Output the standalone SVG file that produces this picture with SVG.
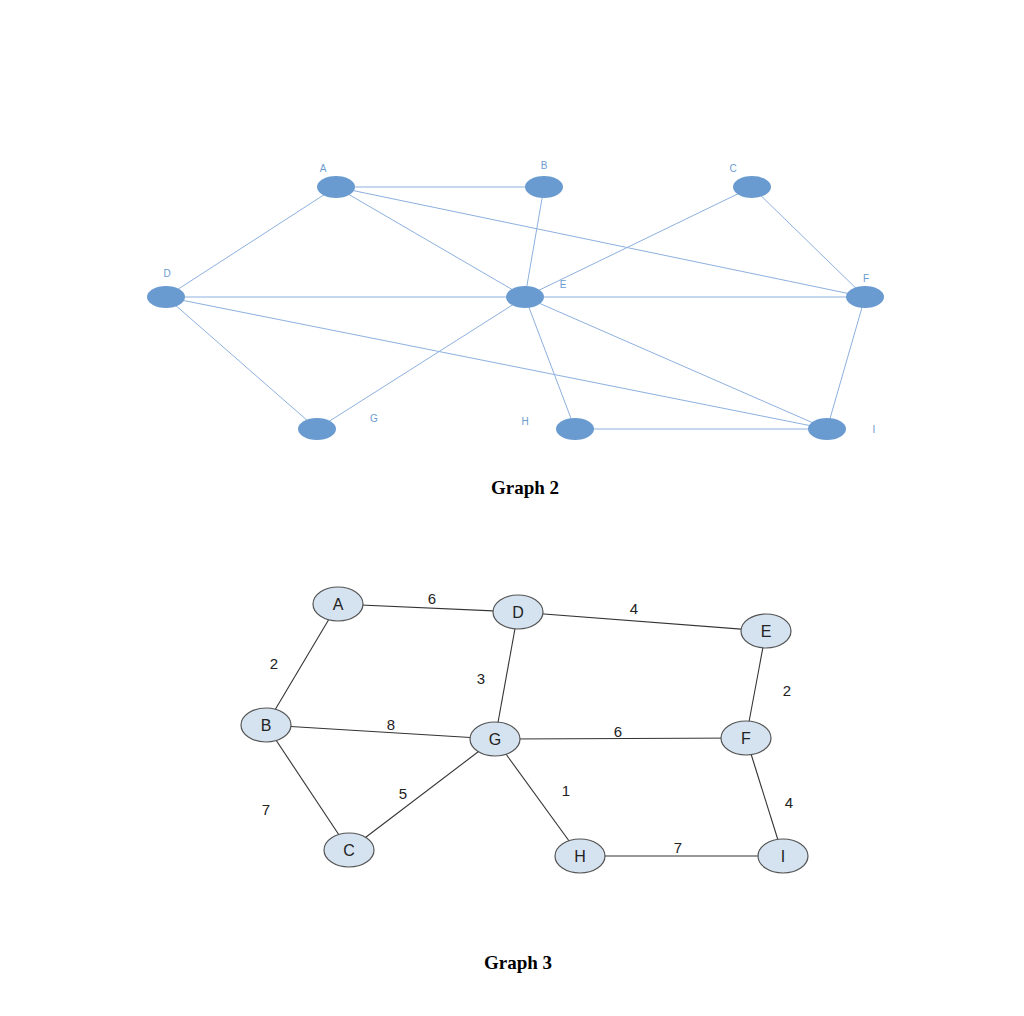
<svg xmlns="http://www.w3.org/2000/svg" width="1024" height="1016" viewBox="0 0 1024 1016">
<style>
.e2{stroke:#8db0de;stroke-width:1;fill:none}
.n2{fill:#6a9bd0}
.l2{font-family:"Liberation Sans",Arial,sans-serif;font-size:10px;fill:#6a9bd0;text-anchor:middle}
.e3{stroke:#333;stroke-width:1.1;fill:none}
.n3{fill:#d5e3f1;stroke:#555;stroke-width:1.2}
.t3{font-family:"Liberation Sans",Arial,sans-serif;font-size:16px;fill:#222;text-anchor:middle}
.w3{font-family:"Liberation Sans",Arial,sans-serif;font-size:15px;fill:#222;text-anchor:middle}
.cap{font-family:"Liberation Serif","Times New Roman",serif;font-size:19px;font-weight:bold;fill:#000;text-anchor:middle}
</style>
<rect width="1024" height="1016" fill="#fff"/>
<g id="graph2-edges">
<line class="e2" x1="336" y1="187" x2="544" y2="187"/>
<line class="e2" x1="336" y1="187" x2="525" y2="297"/>
<line class="e2" x1="336" y1="187" x2="865" y2="297"/>
<line class="e2" x1="336" y1="187" x2="166" y2="297"/>
<line class="e2" x1="544" y1="187" x2="525" y2="297"/>
<line class="e2" x1="752" y1="187" x2="525" y2="297"/>
<line class="e2" x1="752" y1="187" x2="865" y2="297"/>
<line class="e2" x1="166" y1="297" x2="525" y2="297"/>
<line class="e2" x1="166" y1="297" x2="827" y2="429"/>
<line class="e2" x1="166" y1="297" x2="317" y2="429"/>
<line class="e2" x1="525" y1="297" x2="865" y2="297"/>
<line class="e2" x1="525" y1="297" x2="317" y2="429"/>
<line class="e2" x1="525" y1="297" x2="575" y2="429"/>
<line class="e2" x1="525" y1="297" x2="827" y2="429"/>
<line class="e2" x1="865" y1="297" x2="827" y2="429"/>
<line class="e2" x1="575" y1="429" x2="827" y2="429"/>
</g>
<g id="g2-A"><ellipse class="n2" cx="336" cy="187" rx="19" ry="11"/><text class="l2" x="323" y="172">A</text></g>
<g id="g2-B"><ellipse class="n2" cx="544" cy="187" rx="19" ry="11"/><text class="l2" x="544" y="169">B</text></g>
<g id="g2-C"><ellipse class="n2" cx="752" cy="187" rx="19" ry="11"/><text class="l2" x="733" y="172">C</text></g>
<g id="g2-D"><ellipse class="n2" cx="166" cy="297" rx="19" ry="11"/><text class="l2" x="167" y="277">D</text></g>
<g id="g2-E"><ellipse class="n2" cx="525" cy="297" rx="19" ry="11"/><text class="l2" x="563" y="288">E</text></g>
<g id="g2-F"><ellipse class="n2" cx="865" cy="297" rx="19" ry="11"/><text class="l2" x="866" y="282">F</text></g>
<g id="g2-G"><ellipse class="n2" cx="317" cy="429" rx="19" ry="11"/><text class="l2" x="374" y="422">G</text></g>
<g id="g2-H"><ellipse class="n2" cx="575" cy="429" rx="19" ry="11"/><text class="l2" x="525" y="425">H</text></g>
<g id="g2-I"><ellipse class="n2" cx="827" cy="429" rx="19" ry="11"/><text class="l2" x="874" y="433">I</text></g>
<text class="cap" x="525" y="494">Graph 2</text>
<g id="graph3-edges">
<line class="e3" x1="338" y1="604" x2="518" y2="612"/>
<line class="e3" x1="518" y1="612" x2="766" y2="631"/>
<line class="e3" x1="338" y1="604" x2="266" y2="725"/>
<line class="e3" x1="518" y1="612" x2="495" y2="739"/>
<line class="e3" x1="766" y1="631" x2="746" y2="738"/>
<line class="e3" x1="266" y1="725" x2="495" y2="739"/>
<line class="e3" x1="495" y1="739" x2="746" y2="738"/>
<line class="e3" x1="266" y1="725" x2="349" y2="850"/>
<line class="e3" x1="495" y1="739" x2="349" y2="850"/>
<line class="e3" x1="495" y1="739" x2="580" y2="856"/>
<line class="e3" x1="746" y1="738" x2="783" y2="856"/>
<line class="e3" x1="580" y1="856" x2="783" y2="856"/>
</g>
<g id="weights">
<text class="w3" x="432" y="604">6</text>
<text class="w3" x="634" y="614">4</text>
<text class="w3" x="274" y="669">2</text>
<text class="w3" x="481" y="684">3</text>
<text class="w3" x="787" y="696">2</text>
<text class="w3" x="391" y="730">8</text>
<text class="w3" x="618" y="737">6</text>
<text class="w3" x="266" y="815">7</text>
<text class="w3" x="403" y="799">5</text>
<text class="w3" x="566" y="796">1</text>
<text class="w3" x="789" y="808">4</text>
<text class="w3" x="678" y="853">7</text>
</g>
<g id="g3-A"><ellipse class="n3" cx="338" cy="604" rx="25" ry="17"/><text class="t3" x="338" y="610">A</text></g>
<g id="g3-D"><ellipse class="n3" cx="518" cy="612" rx="25" ry="17"/><text class="t3" x="518" y="618">D</text></g>
<g id="g3-E"><ellipse class="n3" cx="766" cy="631" rx="25" ry="17"/><text class="t3" x="766" y="637">E</text></g>
<g id="g3-B"><ellipse class="n3" cx="266" cy="725" rx="25" ry="17"/><text class="t3" x="266" y="731">B</text></g>
<g id="g3-G"><ellipse class="n3" cx="495" cy="739" rx="25" ry="17"/><text class="t3" x="495" y="745">G</text></g>
<g id="g3-F"><ellipse class="n3" cx="746" cy="738" rx="25" ry="17"/><text class="t3" x="746" y="744">F</text></g>
<g id="g3-C"><ellipse class="n3" cx="349" cy="850" rx="25" ry="17"/><text class="t3" x="349" y="856">C</text></g>
<g id="g3-H"><ellipse class="n3" cx="580" cy="856" rx="25" ry="17"/><text class="t3" x="580" y="862">H</text></g>
<g id="g3-I"><ellipse class="n3" cx="783" cy="856" rx="25" ry="17"/><text class="t3" x="783" y="862">I</text></g>
<text class="cap" x="518" y="969">Graph 3</text>
</svg>
